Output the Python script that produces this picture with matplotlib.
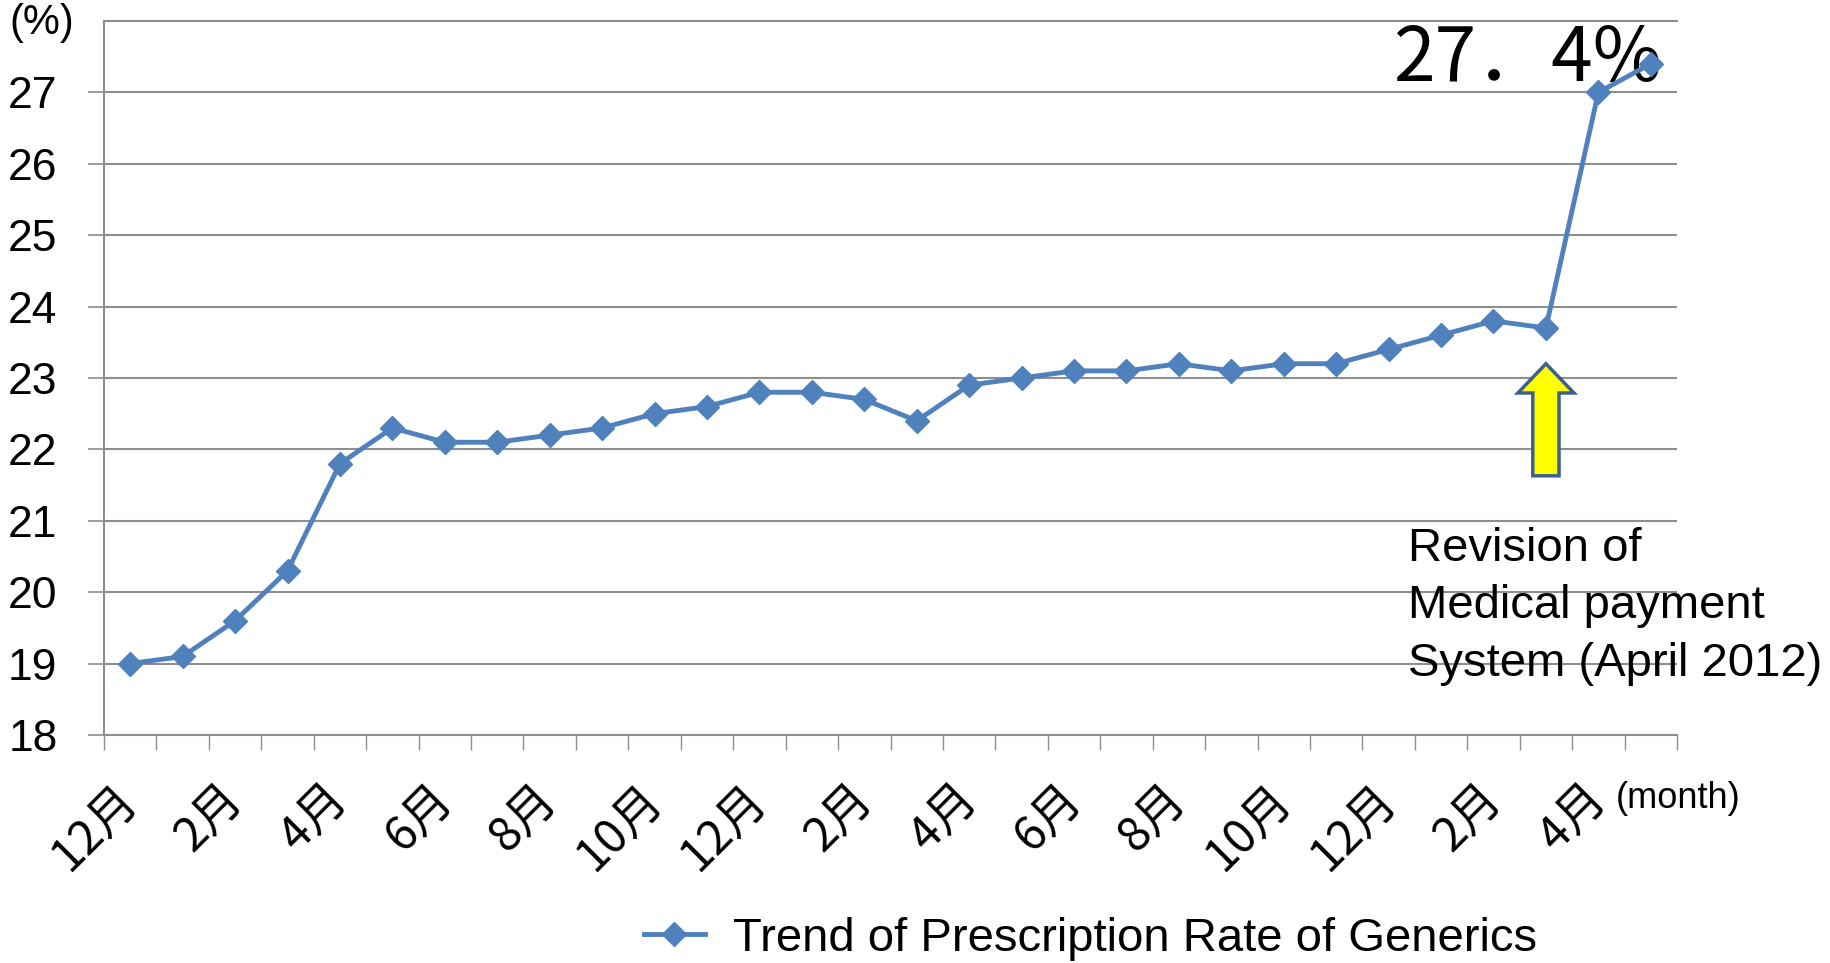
import matplotlib
matplotlib.use('Agg')
import matplotlib.pyplot as plt
from matplotlib import font_manager
from matplotlib.patches import FancyArrow
import numpy as np

# フォント: 細めの欧文フォントがあれば使う
available = {f.name for f in font_manager.fontManager.ttflist}
NARROW = 'Liberation Sans Narrow' if 'Liberation Sans Narrow' in available else 'Liberation Sans'
CJK = ['Noto Sans CJK JP', 'DejaVu Sans']

# データ (ジェネリック医薬品の処方率, %)
months = ['12月', '1月', '2月', '3月', '4月', '5月', '6月', '7月', '8月', '9月',
          '10月', '11月', '12月', '1月', '2月', '3月', '4月', '5月', '6月', '7月',
          '8月', '9月', '10月', '11月', '12月', '1月', '2月', '3月', '4月', '5月']
rates = [19.0, 19.1, 19.6, 20.3, 21.8, 22.3, 22.1, 22.1, 22.2, 22.3,
         22.5, 22.6, 22.8, 22.8, 22.7, 22.4, 22.9, 23.0, 23.1, 23.1,
         23.2, 23.1, 23.2, 23.2, 23.4, 23.6, 23.8, 23.7, 27.0, 27.4]
revision_idx = 27          # 2012年4月の診療報酬改定直前
y_ticks = list(range(18, 28))

GRID = '#8e8e8e'
BLUE = '#4F81BD'

fig = plt.figure(figsize=(18.3, 9.63), dpi=100)
ax = fig.add_axes([104 / 1830, 228 / 963, 1573 / 1830, 714 / 963])

x = np.arange(len(rates))
line, = ax.plot(x, rates, color=BLUE, lw=3.5, marker='D', markersize=12,
                markeredgecolor=BLUE, zorder=3,
                label='Trend of Prescription Rate of Generics')

ax.set_xlim(-0.5, len(rates) - 0.5)
ax.set_ylim(18, 28)

# y軸
ax.set_yticks(y_ticks)
ax.set_yticklabels([str(v) for v in y_ticks], fontsize=32, family=NARROW)
ax.tick_params(axis='y', length=11.5, width=1.2, color=GRID, pad=22)
ax.yaxis.grid(True, color=GRID, lw=1.5)
ax.set_axisbelow(True)

# x軸: 目盛線は区切り位置、ラベルは2か月ごと
ax.set_xticks(np.arange(-0.5, len(rates), 1.0))
ax.set_xticklabels([])
ax.tick_params(axis='x', which='major', length=11, width=1.0, color=GRID)
ax.set_xticks(x[::2], minor=True)
ax.set_xticklabels(months[::2], minor=True, rotation=45, ha='right', va='center',
                   rotation_mode='anchor', fontsize=34, family=CJK)
ax.tick_params(axis='x', which='minor', length=0, pad=41)

for side in ['left', 'bottom', 'top']:
    ax.spines[side].set_color(GRID)
    ax.spines[side].set_linewidth(1.5)
ax.spines['right'].set_visible(False)

# 最終値のラベル
ax.annotate('27．4%', xy=(x[-1], rates[-1]), xytext=(8, -12),
            textcoords='offset points', ha='right', va='baseline',
            fontsize=54, family=CJK, zorder=2)

# 改定の矢印
tip = rates[revision_idx] - 0.5
arrow = FancyArrow(x[revision_idx], tip - 1.57, 0, 1.57, width=0.5,
                   head_width=1.07, head_length=0.41, length_includes_head=True,
                   facecolor='#FFFF00', edgecolor='#3B5F8E', lw=2.5, zorder=4)
ax.add_patch(arrow)

ax.text(0.829, 0.292, 'Revision of\nMedical payment\nSystem (April 2012)',
        transform=ax.transAxes, ha='left', va='top', fontsize=34,
        family='Liberation Sans', linespacing=1.4)

fig.text(0.023, 0.976, '(%)', ha='center', va='center', fontsize=30, family=NARROW)
fig.text(0.883, 0.171, '(month)', ha='left', va='center', fontsize=26, family=NARROW)

fig.legend(handles=[line], loc='center', bbox_to_anchor=(0.596, 0.025),
           frameon=False, prop={'family': NARROW, 'size': 34},
           handlelength=1.3, handletextpad=0.6)

fig.savefig('out.png', dpi=100)
